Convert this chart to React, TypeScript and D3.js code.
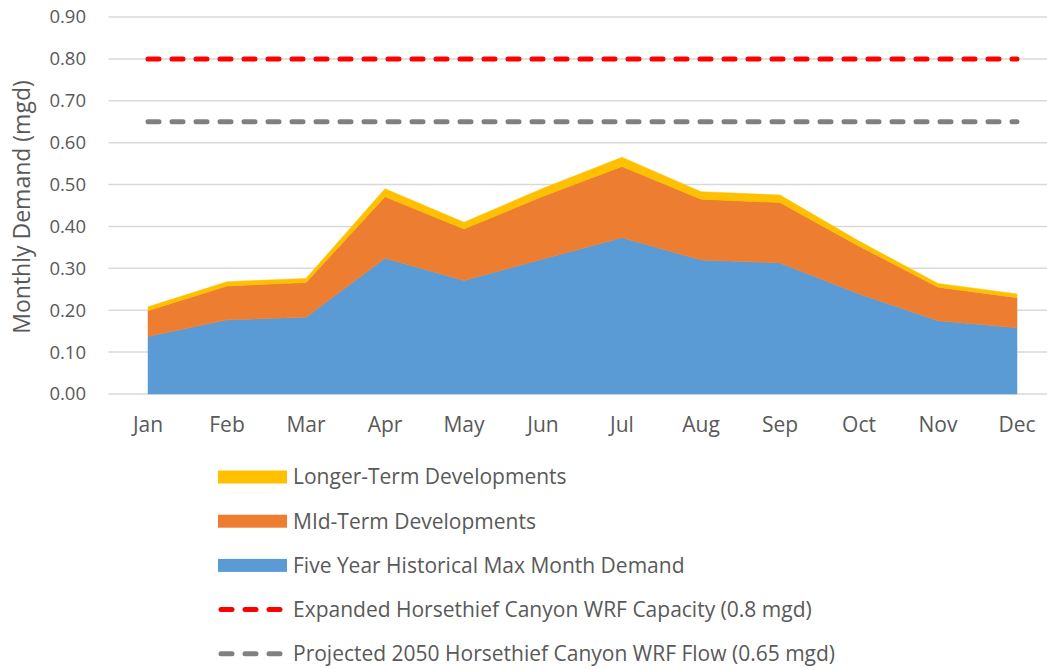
import React from "react";
import * as d3 from "d3";

const months = ["Jan", "Feb", "Mar", "Apr", "May", "Jun", "Jul", "Aug", "Sep", "Oct", "Nov", "Dec"];
const historical = [0.137, 0.177, 0.183, 0.324, 0.271, 0.322, 0.373, 0.320, 0.313, 0.239, 0.175, 0.158];
const midTerm = [0.062, 0.081, 0.083, 0.147, 0.123, 0.150, 0.170, 0.145, 0.144, 0.114, 0.080, 0.072];
const longerTerm = [0.009, 0.010, 0.010, 0.019, 0.016, 0.019, 0.022, 0.018, 0.018, 0.012, 0.009, 0.009];
const capacity = 0.8;
const projectedFlow = 0.65;
const yTicks = [0, 0.1, 0.2, 0.3, 0.4, 0.5, 0.6, 0.7, 0.8, 0.9];

const FONT = "'Open Sans', 'Noto Sans', sans-serif";
const TEXT = "#595959";

const App = () => {
  const width = 1047;
  const height = 669;

  const x = d3.scalePoint<string>().domain(months).range([108.5, 1056.5]).padding(0.5);
  const y = d3.scaleLinear().domain([0, 0.9]).range([394, 17]);

  const rows = months.map((m, i) => ({
    month: m,
    historical: historical[i],
    mid: midTerm[i],
    longer: longerTerm[i],
  }));
  const stack = d3.stack<any>().keys(["historical", "mid", "longer"]);
  const layers = stack(rows);
  const colors = ["#5B9BD5", "#ED7D31", "#FFC000"];

  const area = d3
    .area<any>()
    .x(d => x(d.data.month) as number)
    .y0(d => y(d[0]))
    .y1(d => y(d[1]));

  const first = x(months[0]) as number;
  const last = x(months[months.length - 1]) as number;

  const legend = [
    { label: "Longer-Term Developments", kind: "box", color: "#FFC000" },
    { label: "MId-Term Developments", kind: "box", color: "#ED7D31" },
    { label: "Five Year Historical Max Month Demand", kind: "box", color: "#5B9BD5" },
    { label: "Expanded Horsethief Canyon WRF Capacity (0.8 mgd)", kind: "dash", color: "#FF0000" },
    { label: "Projected 2050 Horsethief Canyon WRF Flow (0.65 mgd)", kind: "dash", color: "#808080" },
  ];

  return (
    <svg
      width={width}
      height={height}
      style={{ position: "absolute", left: 0, top: 0, background: "#fff" }}
      fontFamily={FONT}
    >
      {/* gridlines */}
      {yTicks.map(t => (
        <line key={t} x1={108.5} x2={width} y1={y(t)} y2={y(t)} stroke="#D9D9D9" strokeWidth={1.5} />
      ))}

      {/* stacked areas */}
      {layers.map((layer, i) => (
        <path key={layer.key} d={area(layer) || ""} fill={colors[i]} stroke={colors[i]} strokeWidth={0.5} />
      ))}

      {/* reference lines */}
      <line
        x1={first} x2={last} y1={y(capacity)} y2={y(capacity)}
        stroke="#FF0000" strokeWidth={5} strokeLinecap="round" strokeDasharray="11 13"
      />
      <line
        x1={first} x2={last} y1={y(projectedFlow)} y2={y(projectedFlow)}
        stroke="#808080" strokeWidth={5} strokeLinecap="round" strokeDasharray="11 13"
      />

      {/* y ticks */}
      {yTicks.map(t => (
        <text key={t} x={86} y={y(t)} dy="0.35em" textAnchor="end" fontSize={18.5} fill={TEXT}>
          {t.toFixed(2)}
        </text>
      ))}

      {/* x ticks */}
      {months.map(m => (
        <text key={m} x={x(m)} y={425} dy="0.35em" textAnchor="middle" fontSize={21} fill={TEXT}>
          {m}
        </text>
      ))}

      <text
        transform="translate(22 207) rotate(-90)"
        textAnchor="middle"
        dy="0.35em"
        fontSize={23}
        fill={TEXT}
      >
        Monthly Demand (mgd)
      </text>

      {/* legend */}
      {legend.map((item, i) => {
        const cy = 477 + i * 44.2;
        return (
          <g key={item.label}>
            {item.kind === "box" ? (
              <rect x={218} y={cy - 6.5} width={69} height={13} fill={item.color} />
            ) : (
              <line
                x1={221} x2={285} y1={cy} y2={cy}
                stroke={item.color} strokeWidth={5} strokeLinecap="round" strokeDasharray="11 13"
              />
            )}
            <text x={293} y={cy} dy="0.35em" fontSize={21} fill={TEXT}>
              {item.label}
            </text>
          </g>
        );
      })}
    </svg>
  );
};

export default App;
